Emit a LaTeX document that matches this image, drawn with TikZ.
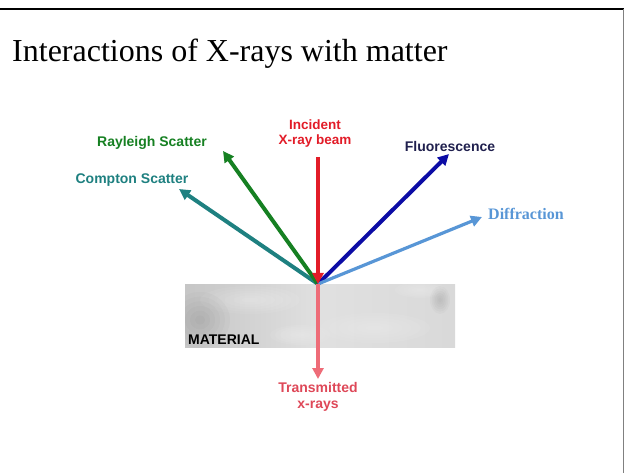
\documentclass[tikz,border=0pt]{standalone}
\usepackage{fontspec}
\setmainfont{Liberation Serif}
\setsansfont{Liberation Sans}
\usetikzlibrary{arrows.meta, positioning}
\definecolor{incred}{RGB}{226,28,40}
\definecolor{raygreen}{RGB}{22,128,34}
\definecolor{comteal}{RGB}{30,128,128}
\definecolor{fluoblue}{RGB}{12,12,165}
\definecolor{fluotext}{RGB}{32,32,78}
\definecolor{diffblue}{RGB}{88,150,214}
\definecolor{transpink}{RGB}{238,108,120}
\definecolor{transtext}{RGB}{222,72,88}

\begin{document}
\begin{tikzpicture}[x=1pt,y=-1pt,
  beam/.style={line width=4pt,-{Triangle[length=11pt,width=11pt]}},
  lbl/.style={font=\sffamily\bfseries\fontsize{14}{15.5}\selectfont, align=center, inner sep=0pt}]
  \useasboundingbox (0,0) rectangle (624,473);
  \draw[line width=2.5pt] (0,9) -- (624,9);
  \draw[gray, line width=1pt] (623,9) -- (623,473);
  \node[anchor=base west, inner sep=0pt, font=\fontsize{32}{38}\selectfont] (title) at (12,62) {Interactions of X-rays with matter};
  % the sample
  \shade[left color=gray!45, right color=gray!30, middle color=gray!24] (185,284) rectangle (455,347);
  \begin{scope}
    \clip (185,284) rectangle (455,347);
    \foreach \cx/\cy/\a/\b in {250/300/50/14, 375/328/55/15, 300/335/30/10, 420/290/25/8}
      \foreach \k in {1,...,6}
        \fill[white, opacity=0.06] (\cx,\cy) ellipse ({\a*\k/6} and {\b*\k/6});
    \foreach \cx/\cy/\a/\b in {200/320/30/28, 440/300/10/14}
      \foreach \k in {1,...,6}
        \fill[black, opacity=0.02] (\cx,\cy) ellipse ({\a*\k/6} and {\b*\k/6});
  \end{scope}
  \node[lbl, anchor=base west, black] (material) at (188,344) {MATERIAL};
  % rays
  \coordinate (O) at (318,284);
  \coordinate (inc) at (318,157);
  \coordinate (ray) at (223,151);
  \coordinate (comp) at (179,189);
  \coordinate (fluo) at (449,154);
  \coordinate (diff) at (482,217);
  \coordinate (trans) at (318,379);
  \draw[beam, comteal] (O) -- (comp);
  \draw[beam, raygreen] (O) -- (ray);
  \draw[beam, fluoblue] (O) -- (fluo);
  \draw[beam, diffblue, line width=3.2pt] (O) -- (diff);
  \draw[beam, transpink, line width=3.2pt] (O) -- (trans);
  \draw[beam, incred] (inc) -- (O);
  % labels
  \node[lbl, incred, anchor=base, font=\sffamily\bfseries\fontsize{13.5}{15}\selectfont] (inclbl) at (315,145) {Incident\\X-ray beam};
  \node[lbl, raygreen, anchor=base] (raylbl) at (152,147) {Rayleigh Scatter};
  \node[lbl, comteal, anchor=base] (complbl) at (132,184) {Compton Scatter};
  \node[lbl, fluotext, anchor=base] (fluolbl) at (450,152) {Fluorescence};
  \node[diffblue, anchor=base west, inner sep=0pt, font=\bfseries\fontsize{16}{18}\selectfont] (difflbl) at (488,220) {Diffraction};
  \node[lbl, transtext, anchor=base] (translbl) at (318,408) {Transmitted\\x-rays};
\end{tikzpicture}
\end{document}
